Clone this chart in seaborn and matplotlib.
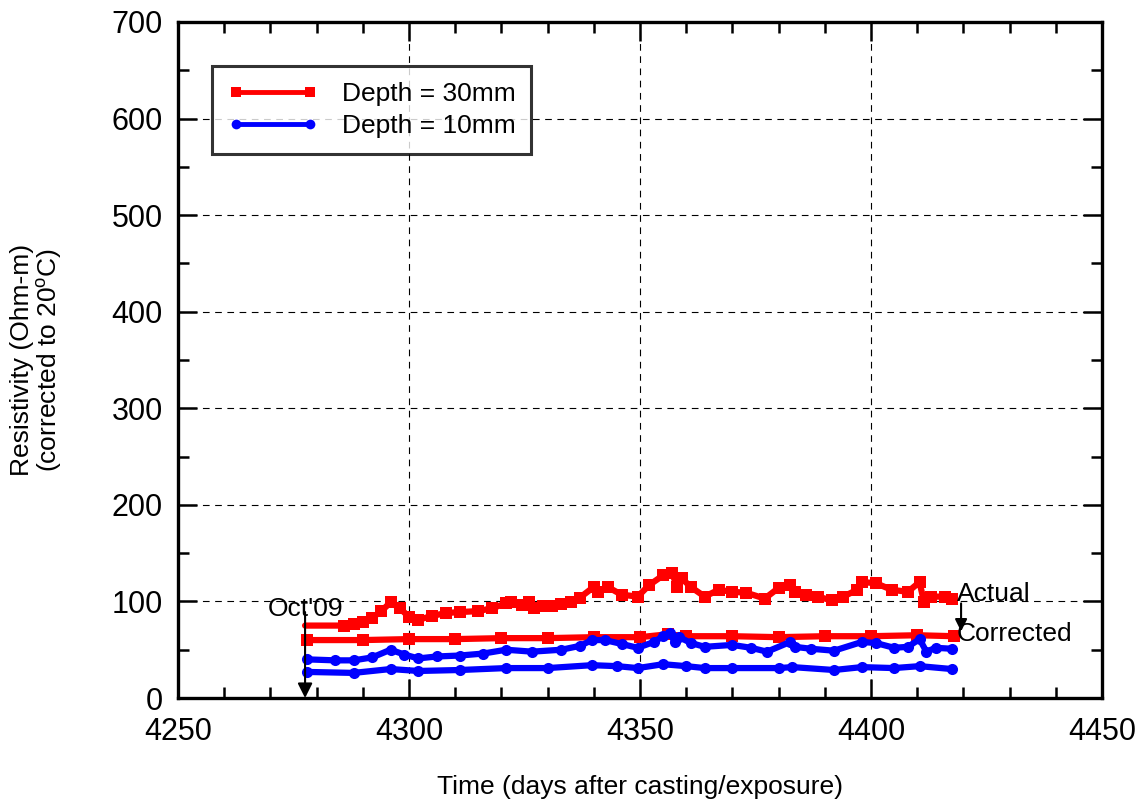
import numpy as np
import pandas as pd
import matplotlib
matplotlib.use("Agg")
import matplotlib.pyplot as plt
from matplotlib.lines import Line2D
from matplotlib.ticker import MultipleLocator
import seaborn as sns

# ---------------- data ----------------
x_act30 = [4277.5, 4286, 4288, 4290, 4292, 4294, 4296, 4298, 4300, 4302, 4305, 4308,
           4311, 4315, 4318, 4321, 4322, 4324.5, 4326, 4327, 4329, 4331, 4333, 4335,
           4337, 4340, 4341, 4343, 4346, 4349.5, 4352, 4355, 4357, 4358, 4359, 4361,
           4364, 4367, 4370, 4373, 4377, 4380, 4382.5, 4383.5, 4386, 4388.5, 4391.5,
           4394, 4397, 4398, 4401, 4404.5, 4408, 4410.5, 4411.5, 4413, 4416, 4417.5]
y_act30 = [75, 75, 77, 79, 83, 90, 99, 93, 84, 81, 85, 88,
           89, 90, 93, 98, 99, 96, 99, 93, 95, 95, 97, 99,
           104, 115, 110, 115, 107, 105, 117, 127, 129, 115, 124, 115,
           105, 112, 110, 109, 103, 114, 117, 110, 107, 105, 101,
           105, 112, 120, 119, 112, 110, 120, 99, 105, 105, 103]

x_cor30 = [4278, 4290, 4300, 4310, 4320, 4330, 4340, 4350, 4356, 4360, 4370, 4380,
           4390, 4400, 4410, 4418]
y_cor30 = [60, 60, 61, 61, 62, 62, 63, 63, 66, 64, 64, 63, 64, 64, 65, 64]

x_act10 = [4278, 4284, 4288, 4292, 4296, 4299, 4302, 4306, 4311, 4316, 4321, 4326.6,
           4333, 4337, 4339.6, 4342.4, 4346, 4349.5, 4353, 4355, 4356.5, 4357.5, 4358.5,
           4361, 4364, 4370, 4374, 4377.5, 4382.5, 4383.5, 4387, 4392, 4398, 4401, 4405,
           4408, 4410.5, 4412, 4414, 4417.5]
y_act10 = [40, 39, 39, 42, 50, 45, 41, 43, 44, 46, 50, 48,
           50, 54, 60, 60, 56, 52, 58, 64, 67, 58, 63,
           57, 53, 55, 52, 48, 58, 53, 51, 49, 58, 57, 52,
           53, 61, 48, 52, 51]

x_cor10 = [4278, 4288, 4296, 4302, 4311, 4321, 4330, 4339.6, 4345, 4349.5, 4355, 4360,
           4364, 4370, 4380, 4383, 4392, 4398, 4405, 4410.5, 4417.5]
y_cor10 = [27, 26, 30, 28, 29, 31, 31, 34, 33, 31, 35, 33,
           31, 31, 31, 32, 29, 32, 31, 33, 30]

legend_labels = ["Depth = 30mm", "Depth = 10mm"]
xticks = [4250, 4300, 4350, 4400, 4450]
yticks = [0, 100, 200, 300, 400, 500, 600, 700]

# ---------------- style ----------------
sns.set_theme(style="white")
plt.rcParams['font.family'] = ['Liberation Sans', 'DejaVu Sans']
plt.rcParams['mathtext.fontset'] = 'custom'
plt.rcParams['mathtext.rm'] = 'Liberation Sans'
plt.rcParams['mathtext.it'] = 'Liberation Sans'
plt.rcParams['text.color'] = 'black'
plt.rcParams['axes.labelcolor'] = 'black'

RED = "#ff0000"
BLUE = "#0000ff"

fig = plt.figure(figsize=(11.39, 8.05), dpi=100)
ax = fig.add_axes([0.1563, 0.1329, 0.8112, 0.8398])

def draw(x, y, color, marker, ms, skip_first=False):
    df = pd.DataFrame({"x": x, "y": y})
    n = len(x)
    sns.lineplot(data=df, x="x", y="y", ax=ax, color=color, lw=4.5, sort=False,
                 estimator=None, marker=marker, markersize=ms, markeredgewidth=0,
                 markevery=list(range(1, n)) if skip_first else None, zorder=3,
                 solid_joinstyle="round", solid_capstyle="round")

draw(x_act30, y_act30, RED, "s", 8, skip_first=True)
draw(x_cor30, y_cor30, RED, "s", 8)
draw(x_act10, y_act10, BLUE, "o", 8)
draw(x_cor10, y_cor10, BLUE, "o", 8)

ax.set_xlim(4250, 4450)
ax.set_ylim(0, 700)
ax.set_xticks(xticks)
ax.set_yticks(yticks)
ax.xaxis.set_minor_locator(MultipleLocator(10))
ax.yaxis.set_minor_locator(MultipleLocator(50))
ax.grid(True, which="major", color="black", linestyle=(0, (6, 5)), linewidth=0.8)
ax.tick_params(which="both", direction="in", top=True, right=True, bottom=True, left=True,
               labelsize=22, colors="black")
ax.tick_params(axis="y", which="major", length=14, width=1.8, pad=11)
ax.tick_params(axis="x", which="major", length=14, width=1.8, pad=14)
ax.tick_params(which="minor", length=8, width=1.8)
for s in ax.spines.values():
    s.set_linewidth(2.4)
    s.set_color("black")

ax.set_xlabel("Time (days after casting/exposure)", fontsize=19, labelpad=20)
ax.set_ylabel("Resistivity (Ohm-m)\n(corrected to 20$^{\\rm o}$C)", fontsize=19,
              labelpad=34, linespacing=1.05)

handles = [Line2D([], [], color=RED, lw=3.5, marker="s", markersize=7, markeredgewidth=0),
           Line2D([], [], color=BLUE, lw=3.5, marker="o", markersize=7, markeredgewidth=0)]
leg = ax.legend(handles, legend_labels, loc="upper left", bbox_to_anchor=(0.037, 0.935),
                numpoints=2, fontsize=19, frameon=True, fancybox=False, handlelength=3.4,
                borderpad=0.6, labelspacing=0.32, handletextpad=0.9, borderaxespad=0)
leg.get_frame().set_edgecolor("black")
leg.get_frame().set_linewidth(2.2)
leg.set_zorder(5)
for t in leg.get_texts():
    t.set_color("black")

# annotations
ax.text(4277.5, 92, "Oct'09", fontsize=19, ha="center", va="center", zorder=4)
ax.annotate("", xy=(4277.5, 0), xytext=(4277.5, 89),
            arrowprops=dict(arrowstyle="-|>", color="black", lw=1.5,
                            mutation_scale=22, shrinkA=0, shrinkB=0), zorder=4)
ax.text(4418.5, 108, "Actual", fontsize=19, ha="left", va="center", zorder=4)
ax.text(4418.5, 66, "Corrected", fontsize=19, ha="left", va="center", zorder=4)
ax.annotate("", xy=(4419.5, 69), xytext=(4419.5, 98),
            arrowprops=dict(arrowstyle="-|>", color="black", lw=1.5,
                            mutation_scale=18, shrinkA=0, shrinkB=0), zorder=4)

fig.savefig("out.png", dpi=100)
